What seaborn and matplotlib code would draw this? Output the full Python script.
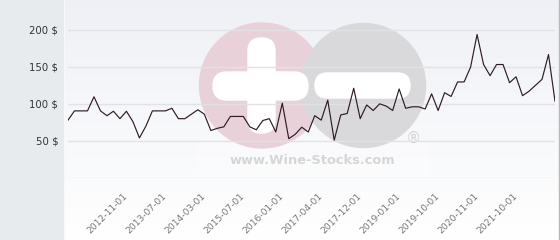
import numpy as np
import pandas as pd
import matplotlib
matplotlib.use("Agg")
import matplotlib.pyplot as plt
from matplotlib.patches import Circle, FancyBboxPatch, Rectangle
import seaborn as sns

# ---- data ----
prices = [78, 90.5, 90.5, 90.5, 109.5, 90.5, 84, 90, 80, 90,
          76, 54, 70, 90.5, 90.5, 90.5, 94, 80, 80, 86,
          92, 86, 64, 67, 69, 83, 83, 83, 69, 65,
          77.5, 80, 62, 101, 53, 59, 68.5, 62, 84, 78,
          105, 51, 85, 87, 121, 80, 98.5, 91, 100, 97,
          91, 120, 94, 96, 96, 93, 113.5, 91, 115, 110,
          129.5, 129.5, 149.5, 193.5, 153, 138, 153, 153, 128.5, 136.5,
          111, 117, 125, 133, 166.5, 103.5]
tick_labels = ["2012-11-01", "2013-07-01", "2014-03-01", "2015-07-01",
               "2016-01-01", "2017-04-01", "2017-12-01", "2019-01-01",
               "2019-10-01", "2020-11-01", "2021-10-01"]
y_ticks = [0, 50, 100, 150, 200]
y_tick_labels = ["", "50 $", "100 $", "150 $", "200 $"]

df = pd.DataFrame({"idx": np.arange(len(prices)), "price": prices})

W, H = 560, 240
fig = plt.figure(figsize=(W / 100, H / 100), dpi=100)

# ---- background layer (pixel coordinates) ----
bg = fig.add_axes([0, 0, 1, 1])
bg.set_xlim(0, W)
bg.set_ylim(H, 0)
bg.axis("off")
bg.add_patch(Rectangle((0, 0), 63, H, color="#e7ebee", zorder=0))
grad = np.linspace(0, 1, 256)[:, None]
top = np.array([0.935, 0.943, 0.962])
bot = np.array([1.0, 1.0, 1.0])
img = top[None, None, :] * (1 - grad[:, :, None]) + bot[None, None, :] * grad[:, :, None]
bg.imshow(img, extent=(64, W, H, 0), aspect="auto", zorder=1)
bg.plot([63.5, 63.5], [0, H], color="#f7f8fa", lw=0.8, zorder=2)
bg.plot([558.5, 558.5], [0, H], color="#b8b8b8", lw=1.0, zorder=2)

# watermark
bg.add_patch(Rectangle((197, 142), 230, 31, color="#ffffff", alpha=0.3, zorder=2.5))
bg.add_patch(Circle((262, 85.5), 62.5, color="#e9d1d9", zorder=3))
bg.add_patch(Circle((363.5, 85.5), 62, color="#d9d9db", zorder=4))
bg.add_patch(FancyBboxPatch((248, 38), 27, 95, boxstyle="round,pad=0,rounding_size=13",
                            color="#ffffff", zorder=5))
bg.add_patch(FancyBboxPatch((213, 72), 95, 28, boxstyle="round,pad=0,rounding_size=14",
                            color="#ffffff", zorder=5))
bg.add_patch(FancyBboxPatch((315, 73), 95, 25, boxstyle="round,pad=0,rounding_size=12.5",
                            color="#ffffff", zorder=5))
bg.text(312, 161, "www.Wine-Stocks.com", ha="center", va="center", fontsize=9.4,
        fontweight="bold", color="#d6d6d6", zorder=6)
bg.text(413, 138, "®", ha="center", va="center", fontsize=11,
        color="#d4d4d4", zorder=6)

# ---- main plot ----
ax = fig.add_axes([68 / W, (H - 178) / H, (555 - 68) / W, 178 / H])
ax.patch.set_alpha(0)
sns.lineplot(data=df, x="idx", y="price", ax=ax, color="#301c26", linewidth=0.85)
ax.set_xlim(0, len(prices) - 1)
ax.set_ylim(0, 240)
ax.set_yticks(y_ticks)
ax.set_yticklabels(y_tick_labels)
ax.set_xticks(range(9, 9 + 6 * len(tick_labels), 6))
ax.set_xticklabels(tick_labels, rotation=45, ha="right", va="center",
                   rotation_mode="anchor")
ax.tick_params(axis="y", length=0, pad=7, labelsize=7.3, labelcolor="#333333")
ax.tick_params(axis="x", length=0, pad=12, labelsize=6.6, labelcolor="#777777")
ax.grid(axis="y", color="#e2e2e6", linewidth=1.0)
ax.grid(axis="x", visible=False)
ax.set_axisbelow(True)
for s in ax.spines.values():
    s.set_visible(False)
ax.set_xlabel("")
ax.set_ylabel("")

fig.savefig("out.png", dpi=100)
